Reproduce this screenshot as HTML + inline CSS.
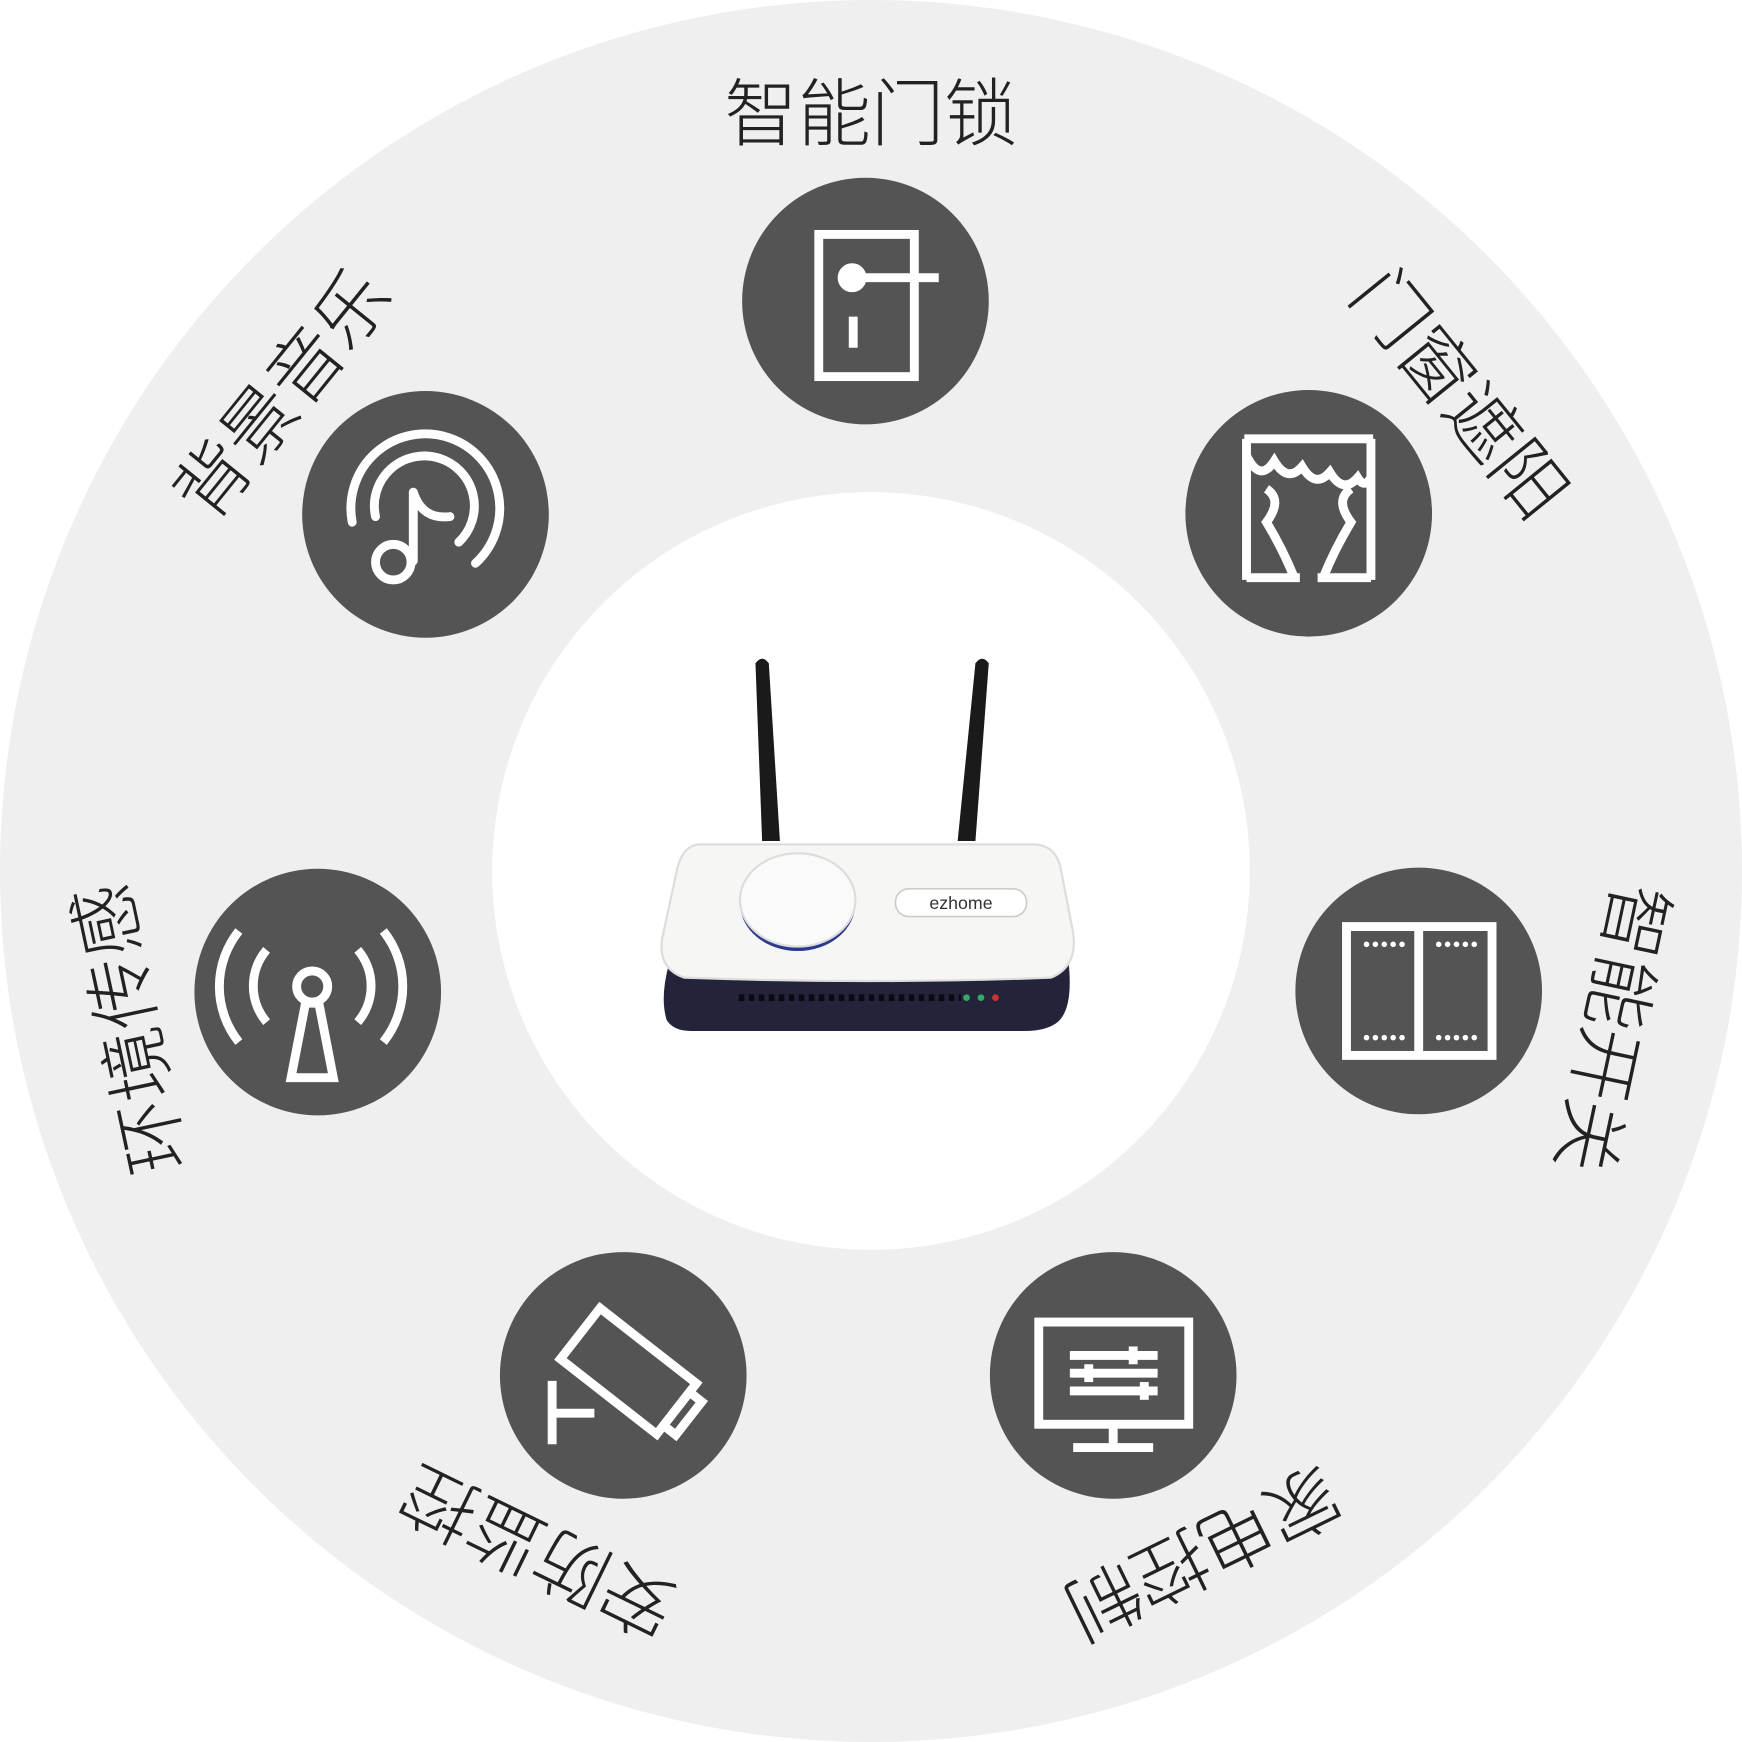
<!DOCTYPE html>
<html><head><meta charset="utf-8"><style>
html,body{margin:0;padding:0;background:#fff;}
svg{display:block}
text{font-family:"Liberation Sans","Noto Sans CJK SC",sans-serif;font-weight:300;font-size:66px;fill:#222;text-anchor:middle;dominant-baseline:central}
</style></head><body>
<svg width="1742" height="1742" viewBox="0 0 1568 1568" xmlns="http://www.w3.org/2000/svg">
<circle cx="784" cy="784" r="784" fill="#efefef"/>
<circle cx="784" cy="784" r="341" fill="#fff"/>

<text x="784" y="103">智能门锁</text>
<text x="784" y="103" transform="rotate(51 784 784)">门窗遮阳</text>
<text x="784" y="103" transform="rotate(102 784 784)">智能开关</text>
<text x="784" y="103" transform="rotate(154 784 784)">家电控制</text>
<text x="784" y="103" transform="rotate(-154 784 784)">安防监控</text>
<text x="784" y="103" transform="rotate(-102 784 784)">环境传感</text>
<text x="784" y="103" transform="rotate(-51 784 784)">背景音乐</text>

<g fill="#545454">
<circle cx="779" cy="271" r="111"/>
<circle cx="1178" cy="462" r="111"/>
<circle cx="1277" cy="892" r="111"/>
<circle cx="1002" cy="1238" r="111"/>
<circle cx="561" cy="1238" r="111"/>
<circle cx="286" cy="893" r="111"/>
<circle cx="383" cy="463" r="111"/>
</g>

<g stroke="#fff" stroke-width="8" fill="none" stroke-linecap="butt">
<rect x="737" y="211" width="86" height="128"/>
<line x1="762" y1="250" x2="845" y2="250"/>
<circle cx="767" cy="250" r="9" fill="#fff"/>
<line x1="768" y1="285" x2="768" y2="313"/>
<line x1="1120" y1="395" x2="1236" y2="395"/>
<line x1="1122" y1="395" x2="1122" y2="522"/>
<line x1="1234" y1="395" x2="1234" y2="522"/>
<line x1="1122" y1="520" x2="1170" y2="520"/>
<line x1="1186" y1="520" x2="1234" y2="520"/>
<path d="M1122 410 q12 25 25 5 q12 20 25 5 q12 20 25 5 q12 20 25 5 q6 10 12 0"/>
<path d="M1140 440 q15 10 0 30 q15 25 25 50"/>
<path d="M1216 440 q-15 10 0 30 q-15 25 -25 50"/>
<rect x="1212" y="834" width="131" height="116"/>
<line x1="1277" y1="834" x2="1277" y2="950"/>
<rect x="935" y="1190" width="135" height="92"/>
<line x1="1002" y1="1282" x2="1002" y2="1303"/>
<line x1="966" y1="1303" x2="1038" y2="1303"/>
<line x1="963" y1="1220" x2="1042" y2="1220"/>
<line x1="963" y1="1236" x2="1042" y2="1236"/>
<line x1="963" y1="1252" x2="1042" y2="1252"/>
<line x1="1020" y1="1212" x2="1020" y2="1228"/>
<line x1="980" y1="1228" x2="980" y2="1244"/>
<line x1="1030" y1="1244" x2="1030" y2="1260"/>
<g transform="rotate(38 565 1235)">
<rect x="510" y="1205" width="110" height="58"/>
<rect x="620" y="1215" width="14" height="38"/>
</g>
<polyline points="497,1243 497,1300 497,1272 535,1272"/>
<circle cx="281" cy="888" r="14"/>
<polygon points="275,903 287,903 300,970 262,970"/>
<path d="M240 855 a50 50 0 0 0 0 65"/>
<path d="M322 855 a50 50 0 0 1 0 65"/>
<path d="M215 838 a80 80 0 0 0 0 100"/>
<path d="M345 838 a80 80 0 0 1 0 100"/>
<!-- music -->
<path d="M317 470 A67 67 0 1 1 428 507" stroke-linecap="round"/>
<path d="M338 465 A45 45 0 1 1 413 488" stroke-linecap="round"/>
<path d="M372 443 L372 505 M372 443 q8 25 33 22" stroke-linecap="round"/>
<circle cx="354" cy="506" r="16"/>
</g>
<g fill="#fff">
<circle cx="1230" cy="850" r="2.5"/><circle cx="1238" cy="850" r="2.5"/><circle cx="1246" cy="850" r="2.5"/><circle cx="1254" cy="850" r="2.5"/><circle cx="1262" cy="850" r="2.5"/>
<circle cx="1295" cy="850" r="2.5"/><circle cx="1303" cy="850" r="2.5"/><circle cx="1311" cy="850" r="2.5"/><circle cx="1319" cy="850" r="2.5"/><circle cx="1327" cy="850" r="2.5"/>
<circle cx="1230" cy="934" r="2.5"/><circle cx="1238" cy="934" r="2.5"/><circle cx="1246" cy="934" r="2.5"/><circle cx="1254" cy="934" r="2.5"/><circle cx="1262" cy="934" r="2.5"/>
<circle cx="1295" cy="934" r="2.5"/><circle cx="1303" cy="934" r="2.5"/><circle cx="1311" cy="934" r="2.5"/><circle cx="1319" cy="934" r="2.5"/><circle cx="1327" cy="934" r="2.5"/>
</g>

<path d="M680 597 q6 -8 12 0 l10 160 h-16 z" fill="#1a1a1a"/>
<path d="M878 597 q6 -8 12 0 l-12 160 h-16 z" fill="#1a1a1a"/>
<path d="M602 868 h360 q4 40 -10 52 q-10 8 -30 8 h-300 q-16 0 -22 -10 q-6 -20 2 -50z" fill="#23243a"/>
<path d="M630 760 h300 q18 0 24 18 l12 62 q4 30 -20 40 q-160 6 -330 0 q-24 -8 -20 -35 l14 -65 q6 -20 20 -20z" fill="#f6f6f4" stroke="#ddd" stroke-width="2"/>
<ellipse cx="718" cy="813" rx="52" ry="43" fill="#2c3a8c"/>
<ellipse cx="718" cy="810" rx="52" ry="42" fill="#fafafa" stroke="#ddd" stroke-width="2"/>
<rect x="806" y="800" width="118" height="25" rx="12" fill="#fff" stroke="#ccc" stroke-width="1.5"/>
<text x="865" y="813" style="font-size:16px;fill:#333">ezhome</text>
<line x1="665" y1="898" x2="865" y2="898" stroke="#0a0a12" stroke-width="6" stroke-dasharray="5 4"/>
<circle cx="870" cy="898" r="3" fill="#3a6"/><circle cx="883" cy="898" r="3" fill="#3a6"/><circle cx="896" cy="898" r="3" fill="#c33"/>
</svg>
</body></html>
